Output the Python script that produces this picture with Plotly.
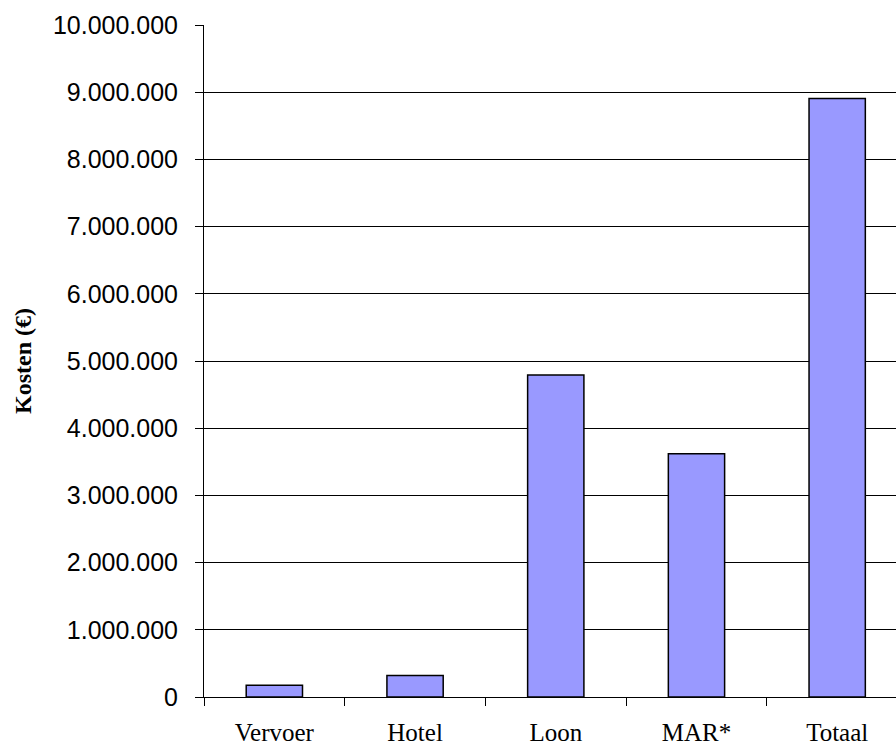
import plotly.graph_objects as go

# Kostenposten en bedragen (€)
categories = ["Vervoer", "Hotel", "Loon", "MAR*", "Totaal"]
costs = [175000, 320000, 4790000, 3620000, 8905000]

y_tick_values = [0, 1000000, 2000000, 3000000, 4000000, 5000000,
                 6000000, 7000000, 8000000, 9000000, 10000000]

fig = go.Figure(
    go.Bar(
        x=categories,
        y=costs,
        width=0.4,
        marker=dict(color="#9999FF", line=dict(color="#000000", width=1.5)),
    )
)

fig.update_layout(
    width=896,
    height=749,
    margin=dict(l=204, r=0, t=25, b=52, pad=0),
    paper_bgcolor="white",
    plot_bgcolor="white",
    separators=",.",
    showlegend=False,
    bargap=0.6,
)

fig.update_xaxes(
    type="category",
    range=[-0.5, 4.418],
    automargin=False,
    tickson="boundaries",
    ticks="outside",
    ticklen=8,
    tickcolor="#000000",
    showline=True,
    linecolor="#000000",
    linewidth=1,
    showgrid=False,
    tickfont=dict(family="Liberation Serif", size=25, color="#000000"),
    ticklabelstandoff=13,
)

fig.update_yaxes(
    range=[0, 10000000],
    automargin=False,
    tickvals=y_tick_values,
    tickformat=",d",
    ticks="outside",
    ticklen=8,
    tickcolor="#000000",
    showline=True,
    linecolor="#000000",
    linewidth=1,
    showgrid=True,
    gridcolor="#000000",
    gridwidth=1,
    zeroline=False,
    tickfont=dict(family="Liberation Sans", size=25, color="#000000"),
    ticklabelstandoff=12,
    title=dict(
        text="<b>Kosten (€)</b>",
        font=dict(family="Liberation Serif", size=24, color="#000000"),
        standoff=14,
    ),
)

fig.write_html("out.html")
